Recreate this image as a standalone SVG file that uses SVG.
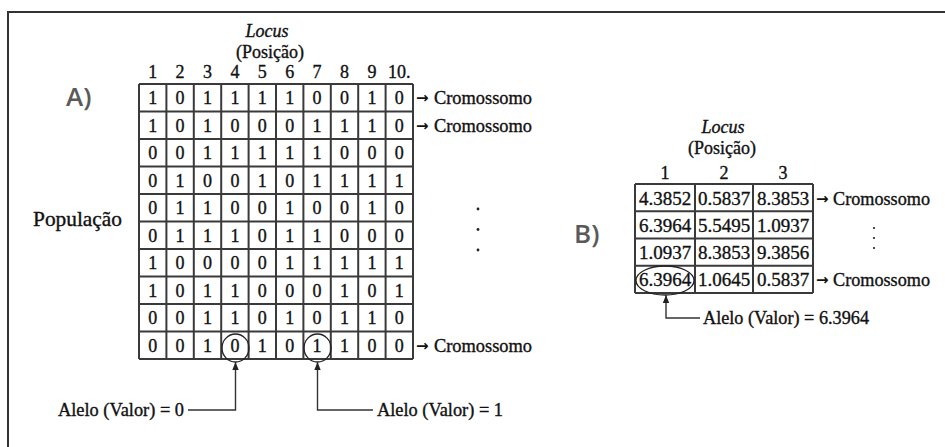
<svg xmlns="http://www.w3.org/2000/svg" width="945" height="447" viewBox="0 0 945 447">
  <style>
    .t { font-family: "Liberation Serif", "Times New Roman", serif; font-size: 18px; fill: #111; stroke: #111; stroke-width: 0.35px; }
    .c { text-anchor: middle; }
    .num { font-size: 19px; }
    .it { font-style: italic; }
    .arr { font-family: "DejaVu Sans", "Liberation Sans", sans-serif; font-size: 15px; font-weight: bold; fill: #111; }
    .tag { font-family: "Open Sans", "Liberation Sans", sans-serif; font-size: 26px; font-weight: 600; fill: #5a5a5a; }
    .grid line { stroke: #3a3a3a; stroke-width: 2; }
    .frame { fill: none; stroke: #333; stroke-width: 2; }
    .conn { fill: none; stroke: #333; stroke-width: 1.4; }
    .ring { fill: none; stroke: #222; stroke-width: 1.3; }
    .dot { fill: #222; }
  </style>
  <defs>
    <marker id="tip" markerUnits="userSpaceOnUse" markerWidth="8" markerHeight="8" viewBox="0 0 8 8" refX="8" refY="4" orient="auto">
      <path d="M0,0.8 L8,4 L0,7.2 Z" fill="#222"/>
    </marker>
  </defs>

  <rect width="945" height="447" fill="#fff"/>

  <!-- outer frame: top and left edges only -->
  <path class="frame" d="M8,447 V12 H945"/>

  <!-- panel A: binary population -->
  <g id="label-a"><text class="tag" x="66" y="106">A)</text></g>

  <g id="locus-a">
    <text class="t it c" x="267" y="37">Locus</text>
    <text class="t c" x="270" y="58">(Posição)</text>
    <g class="t c">
      <text x="152.7" y="78">1</text><text x="180.1" y="78">2</text><text x="207.5" y="78">3</text>
      <text x="234.9" y="78">4</text><text x="262.3" y="78">5</text><text x="289.7" y="78">6</text>
      <text x="317.1" y="78">7</text><text x="344.5" y="78">8</text><text x="371.9" y="78">9</text>
      <text x="399.3" y="78">10.</text>
    </g>
  </g>

  <g id="populacao"><text class="t" x="33" y="226" style="font-size:21px" textLength="89" lengthAdjust="spacingAndGlyphs">População</text></g>

  <g id="grid-a">
    <g class="grid">
      <!-- horizontal rules -->
      <line x1="139" y1="84" x2="413" y2="84"/>
      <line x1="139" y1="111.5" x2="413" y2="111.5"/>
      <line x1="139" y1="139" x2="413" y2="139"/>
      <line x1="139" y1="166.5" x2="413" y2="166.5"/>
      <line x1="139" y1="194" x2="413" y2="194"/>
      <line x1="139" y1="221.5" x2="413" y2="221.5"/>
      <line x1="139" y1="249" x2="413" y2="249"/>
      <line x1="139" y1="276.5" x2="413" y2="276.5"/>
      <line x1="139" y1="304" x2="413" y2="304"/>
      <line x1="139" y1="331.5" x2="413" y2="331.5"/>
      <line x1="139" y1="359" x2="413" y2="359"/>
      <!-- vertical rules -->
      <line x1="139" y1="84" x2="139" y2="359"/>
      <line x1="166.4" y1="84" x2="166.4" y2="359"/>
      <line x1="193.8" y1="84" x2="193.8" y2="359"/>
      <line x1="221.2" y1="84" x2="221.2" y2="359"/>
      <line x1="248.6" y1="84" x2="248.6" y2="359"/>
      <line x1="276" y1="84" x2="276" y2="359"/>
      <line x1="303.4" y1="84" x2="303.4" y2="359"/>
      <line x1="330.8" y1="84" x2="330.8" y2="359"/>
      <line x1="358.2" y1="84" x2="358.2" y2="359"/>
      <line x1="385.6" y1="84" x2="385.6" y2="359"/>
      <line x1="413" y1="84" x2="413" y2="359"/>
    </g>
    <g class="t c">
      <text y="104"><tspan x="152.7">1</tspan><tspan x="180.1">0</tspan><tspan x="207.5">1</tspan><tspan x="234.9">1</tspan><tspan x="262.3">1</tspan><tspan x="289.7">1</tspan><tspan x="317.1">0</tspan><tspan x="344.5">0</tspan><tspan x="371.9">1</tspan><tspan x="399.3">0</tspan></text>
      <text y="131.5"><tspan x="152.7">1</tspan><tspan x="180.1">0</tspan><tspan x="207.5">1</tspan><tspan x="234.9">0</tspan><tspan x="262.3">0</tspan><tspan x="289.7">0</tspan><tspan x="317.1">1</tspan><tspan x="344.5">1</tspan><tspan x="371.9">1</tspan><tspan x="399.3">0</tspan></text>
      <text y="159"><tspan x="152.7">0</tspan><tspan x="180.1">0</tspan><tspan x="207.5">1</tspan><tspan x="234.9">1</tspan><tspan x="262.3">1</tspan><tspan x="289.7">1</tspan><tspan x="317.1">1</tspan><tspan x="344.5">0</tspan><tspan x="371.9">0</tspan><tspan x="399.3">0</tspan></text>
      <text y="186.5"><tspan x="152.7">0</tspan><tspan x="180.1">1</tspan><tspan x="207.5">0</tspan><tspan x="234.9">0</tspan><tspan x="262.3">1</tspan><tspan x="289.7">0</tspan><tspan x="317.1">1</tspan><tspan x="344.5">1</tspan><tspan x="371.9">1</tspan><tspan x="399.3">1</tspan></text>
      <text y="214"><tspan x="152.7">0</tspan><tspan x="180.1">1</tspan><tspan x="207.5">1</tspan><tspan x="234.9">0</tspan><tspan x="262.3">0</tspan><tspan x="289.7">1</tspan><tspan x="317.1">0</tspan><tspan x="344.5">0</tspan><tspan x="371.9">1</tspan><tspan x="399.3">0</tspan></text>
      <text y="241.5"><tspan x="152.7">0</tspan><tspan x="180.1">1</tspan><tspan x="207.5">1</tspan><tspan x="234.9">1</tspan><tspan x="262.3">0</tspan><tspan x="289.7">1</tspan><tspan x="317.1">1</tspan><tspan x="344.5">0</tspan><tspan x="371.9">0</tspan><tspan x="399.3">0</tspan></text>
      <text y="269"><tspan x="152.7">1</tspan><tspan x="180.1">0</tspan><tspan x="207.5">0</tspan><tspan x="234.9">0</tspan><tspan x="262.3">0</tspan><tspan x="289.7">1</tspan><tspan x="317.1">1</tspan><tspan x="344.5">1</tspan><tspan x="371.9">1</tspan><tspan x="399.3">1</tspan></text>
      <text y="296.5"><tspan x="152.7">1</tspan><tspan x="180.1">0</tspan><tspan x="207.5">1</tspan><tspan x="234.9">1</tspan><tspan x="262.3">0</tspan><tspan x="289.7">0</tspan><tspan x="317.1">0</tspan><tspan x="344.5">1</tspan><tspan x="371.9">0</tspan><tspan x="399.3">1</tspan></text>
      <text y="324"><tspan x="152.7">0</tspan><tspan x="180.1">0</tspan><tspan x="207.5">1</tspan><tspan x="234.9">1</tspan><tspan x="262.3">0</tspan><tspan x="289.7">1</tspan><tspan x="317.1">0</tspan><tspan x="344.5">1</tspan><tspan x="371.9">1</tspan><tspan x="399.3">0</tspan></text>
      <text y="351.5"><tspan x="152.7">0</tspan><tspan x="180.1">0</tspan><tspan x="207.5">1</tspan><tspan x="234.9">0</tspan><tspan x="262.3">1</tspan><tspan x="289.7">0</tspan><tspan x="317.1">1</tspan><tspan x="344.5">1</tspan><tspan x="371.9">0</tspan><tspan x="399.3">0</tspan></text>
    </g>
    <!-- highlighted alleles -->
    <ellipse class="ring" cx="235.5" cy="348" rx="13.5" ry="14"/>
    <ellipse class="ring" cx="317.5" cy="348" rx="13.5" ry="14"/>
  </g>

  <g id="cromossomo-a">
    <text class="arr" x="416" y="103">→</text>
    <text class="t" x="434" y="104" textLength="98" lengthAdjust="spacingAndGlyphs">Cromossomo</text>
    <text class="arr" x="416" y="130.5">→</text>
    <text class="t" x="434" y="131.5" textLength="98" lengthAdjust="spacingAndGlyphs">Cromossomo</text>
    <text class="arr" x="416" y="350.5">→</text>
    <text class="t" x="434" y="351.5" textLength="98" lengthAdjust="spacingAndGlyphs">Cromossomo</text>
  </g>

  <g id="ellipsis-a">
    <circle class="dot" cx="478" cy="209" r="1.4"/>
    <circle class="dot" cx="478" cy="229.5" r="1.4"/>
    <circle class="dot" cx="478" cy="250" r="1.4"/>
  </g>

  <g id="alelo-0"><text class="t" x="58" y="416" textLength="126" lengthAdjust="spacingAndGlyphs">Alelo (Valor) = 0</text></g>
  <g id="alelo-1"><text class="t" x="377" y="416" textLength="126" lengthAdjust="spacingAndGlyphs">Alelo (Valor) = 1</text></g>

  <!-- panel B: real-valued population -->
  <g id="label-b"><text class="tag" x="574" y="243">B)</text></g>

  <g id="locus-b">
    <text class="t it c" x="723" y="133">Locus</text>
    <text class="t c" x="722" y="154">(Posição)</text>
    <text class="t c" x="665" y="179">1</text>
    <text class="t c" x="724" y="179">2</text>
    <text class="t c" x="783" y="179">3</text>
  </g>

  <g id="grid-b">
    <g class="grid">
      <line x1="635" y1="184" x2="813" y2="184"/>
      <line x1="635" y1="211.25" x2="813" y2="211.25"/>
      <line x1="635" y1="238.5" x2="813" y2="238.5"/>
      <line x1="635" y1="265.75" x2="813" y2="265.75"/>
      <line x1="635" y1="293" x2="813" y2="293"/>
      <line x1="635" y1="184" x2="635" y2="293"/>
      <line x1="695" y1="184" x2="695" y2="293"/>
      <line x1="753" y1="184" x2="753" y2="293"/>
      <line x1="813" y1="184" x2="813" y2="293"/>
    </g>
    <g class="t num c">
      <text y="204.5"><tspan x="665">4.3852</tspan><tspan x="724">0.5837</tspan><tspan x="783">8.3853</tspan></text>
      <text y="231.5"><tspan x="665">6.3964</tspan><tspan x="724">5.5495</tspan><tspan x="783">1.0937</tspan></text>
      <text y="259"><tspan x="665">1.0937</tspan><tspan x="724">8.3853</tspan><tspan x="783">9.3856</tspan></text>
      <text y="286"><tspan x="665">6.3964</tspan><tspan x="724">1.0645</tspan><tspan x="783">0.5837</tspan></text>
    </g>
    <ellipse class="ring" cx="665" cy="280.5" rx="29" ry="14.5"/>
  </g>

  <g id="cromossomo-b">
    <text class="arr" x="816" y="203.5">→</text>
    <text class="t" x="833" y="204.5" textLength="97" lengthAdjust="spacingAndGlyphs">Cromossomo</text>
    <text class="arr" x="816" y="285">→</text>
    <text class="t" x="833" y="286" textLength="97" lengthAdjust="spacingAndGlyphs">Cromossomo</text>
  </g>

  <g id="ellipsis-b">
    <circle class="dot" cx="874" cy="228" r="1.1"/>
    <circle class="dot" cx="874" cy="238" r="1.1"/>
    <circle class="dot" cx="874" cy="248" r="1.1"/>
  </g>

  <g id="alelo-b"><text class="t" x="703" y="324" textLength="166" lengthAdjust="spacingAndGlyphs">Alelo (Valor) = 6.3964</text></g>

  <!-- pointer lines from labels to the circled alleles -->
  <g id="connectors">
    <path class="conn" d="M188,410 H235.5 V362" marker-end="url(#tip)"/>
    <path class="conn" d="M373,410 H317.5 V362" marker-end="url(#tip)"/>
    <path class="conn" d="M700,318 H666 V295" marker-end="url(#tip)"/>
  </g>
</svg>
